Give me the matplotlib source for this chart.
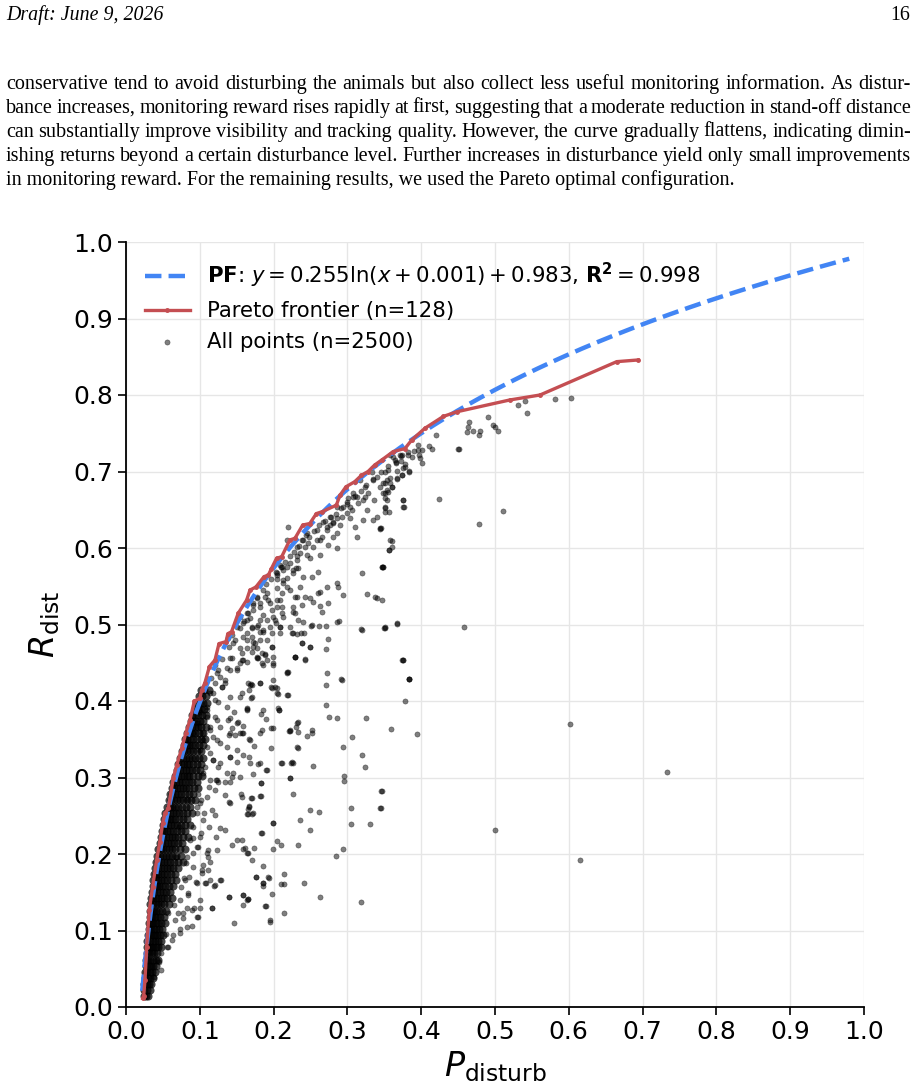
import numpy as np
import matplotlib
matplotlib.use("Agg")
import matplotlib.pyplot as plt

W, H = 916, 1089

# ---- page text ----
header_left = "Draft: June 9, 2026"
header_right = "16"
para_lines = [
    "conservative tend to avoid disturbing the animals but also collect less useful monitoring information.  As distur-",
    "bance increases, monitoring reward rises rapidly at first, suggesting that a moderate reduction in stand-off distance",
    "can substantially improve visibility and tracking quality. However, the curve gradually flattens, indicating dimin-",
    "ishing returns beyond a certain disturbance level. Further increases in disturbance yield only small improvements",
    "in monitoring reward. For the remaining results, we used the Pareto optimal configuration.",
]

# ---- fitted PF curve: y = a ln(x + c) + b ----
pf_a, pf_b, pf_c = 0.255, 0.983, 0.001
pf_xmin, pf_xmax = 0.022, 0.98
pf_r2 = 0.998

# ---- Pareto frontier ----
frontier_x = [0.0226, 0.024, 0.0257, 0.028, 0.0316, 0.036, 0.0415, 0.046, 0.0496, 0.0528,
              0.0573, 0.064, 0.0687, 0.0755, 0.081, 0.0867, 0.0926, 0.100, 0.1025, 0.107,
              0.113, 0.1206, 0.126, 0.1355, 0.138, 0.143, 0.152, 0.1635, 0.168, 0.176,
              0.187, 0.193, 0.197, 0.204, 0.211, 0.222, 0.229, 0.2394, 0.249, 0.258,
              0.266, 0.285, 0.290, 0.298, 0.310, 0.319, 0.328, 0.337, 0.3465, 0.362,
              0.378, 0.387, 0.405, 0.430, 0.448, 0.520, 0.561, 0.665, 0.694]
frontier_y = [0.0113, 0.015, 0.035, 0.079, 0.127, 0.157, 0.192, 0.216, 0.240, 0.253,
              0.2597, 0.299, 0.316, 0.338, 0.358, 0.375, 0.400, 0.4035, 0.414, 0.424,
              0.445, 0.4536, 0.475, 0.4776, 0.488, 0.4906, 0.5146, 0.532, 0.545, 0.549,
              0.5625, 0.5647, 0.573, 0.5865, 0.5887, 0.6105, 0.6127, 0.630, 0.632, 0.645,
              0.6475, 0.656, 0.669, 0.680, 0.6867, 0.695, 0.700, 0.7085, 0.715, 0.726,
              0.730, 0.741, 0.7565, 0.772, 0.778, 0.7935, 0.800, 0.8436, 0.8458]
n_frontier = 128
n_points = 2500

# ---- dense core of the cloud, rows of (y, [x...]) ----
core_rows = [
    (0.015, [0.024, 0.027, 0.030]),
    (0.022, [0.025, 0.029, 0.032]),
    (0.030, [0.025, 0.028, 0.031, 0.034]),
    (0.038, [0.026, 0.030, 0.033, 0.036]),
    (0.046, [0.026, 0.029, 0.032, 0.035, 0.039]),
    (0.054, [0.027, 0.031, 0.034, 0.037, 0.041]),
    (0.062, [0.027, 0.030, 0.033, 0.036, 0.040, 0.043]),
    (0.070, [0.028, 0.031, 0.035, 0.038, 0.042]),
    (0.078, [0.028, 0.031, 0.034, 0.037, 0.040, 0.044, 0.048]),
    (0.086, [0.029, 0.033, 0.036, 0.039, 0.043, 0.047]),
    (0.094, [0.030, 0.033, 0.036, 0.039, 0.042, 0.046, 0.050]),
    (0.102, [0.031, 0.034, 0.038, 0.041, 0.045, 0.049]),
    (0.110, [0.031, 0.034, 0.037, 0.040, 0.044, 0.048, 0.053]),
    (0.118, [0.032, 0.035, 0.039, 0.042, 0.046, 0.051]),
    (0.126, [0.032, 0.035, 0.038, 0.041, 0.045, 0.049, 0.054]),
    (0.134, [0.033, 0.036, 0.040, 0.043, 0.047, 0.052, 0.058]),
    (0.142, [0.034, 0.037, 0.040, 0.043, 0.047, 0.051, 0.056, 0.062]),
    (0.150, [0.035, 0.038, 0.042, 0.046, 0.050, 0.054, 0.060]),
    (0.158, [0.036, 0.039, 0.042, 0.045, 0.049, 0.053, 0.058, 0.064]),
    (0.166, [0.037, 0.040, 0.044, 0.048, 0.052, 0.056, 0.061, 0.068]),
    (0.174, [0.038, 0.041, 0.044, 0.048, 0.052, 0.056, 0.061, 0.067]),
    (0.182, [0.039, 0.043, 0.047, 0.051, 0.055, 0.059, 0.064, 0.071]),
    (0.190, [0.041, 0.044, 0.048, 0.052, 0.056, 0.060, 0.065, 0.071, 0.077]),
    (0.198, [0.042, 0.046, 0.050, 0.054, 0.058, 0.063, 0.068, 0.074]),
    (0.206, [0.044, 0.047, 0.050, 0.054, 0.058, 0.062, 0.067, 0.073, 0.080]),
    (0.214, [0.046, 0.049, 0.053, 0.057, 0.061, 0.065, 0.070, 0.076]),
    (0.222, [0.047, 0.050, 0.054, 0.058, 0.062, 0.066, 0.071, 0.077, 0.084]),
    (0.230, [0.049, 0.052, 0.056, 0.060, 0.064, 0.069, 0.074, 0.080]),
    (0.238, [0.050, 0.053, 0.057, 0.061, 0.065, 0.069, 0.074, 0.080, 0.087]),
    (0.246, [0.052, 0.055, 0.059, 0.063, 0.067, 0.072, 0.077, 0.083]),
    (0.254, [0.053, 0.056, 0.060, 0.064, 0.068, 0.072, 0.077, 0.083, 0.090]),
    (0.262, [0.056, 0.059, 0.063, 0.067, 0.071, 0.076, 0.081, 0.087]),
    (0.270, [0.058, 0.061, 0.065, 0.069, 0.073, 0.077, 0.082, 0.088, 0.094]),
    (0.278, [0.060, 0.063, 0.067, 0.071, 0.075, 0.080, 0.085, 0.091]),
    (0.286, [0.062, 0.065, 0.069, 0.073, 0.077, 0.081, 0.086, 0.092, 0.098]),
    (0.294, [0.064, 0.068, 0.072, 0.076, 0.080, 0.085, 0.090, 0.096]),
    (0.302, [0.067, 0.070, 0.074, 0.078, 0.082, 0.086, 0.091, 0.097, 0.103]),
    (0.310, [0.069, 0.073, 0.077, 0.081, 0.085, 0.090, 0.095, 0.100]),
    (0.318, [0.071, 0.074, 0.078, 0.082, 0.086, 0.091, 0.096, 0.102]),
    (0.326, [0.073, 0.077, 0.081, 0.085, 0.089, 0.094, 0.099, 0.104]),
    (0.334, [0.076, 0.079, 0.083, 0.087, 0.091, 0.096, 0.101]),
    (0.342, [0.078, 0.082, 0.086, 0.090, 0.094, 0.099, 0.105]),
    (0.350, [0.080, 0.083, 0.087, 0.091, 0.096, 0.101, 0.107]),
    (0.358, [0.083, 0.086, 0.090, 0.094, 0.099, 0.104]),
    (0.366, [0.085, 0.089, 0.093, 0.097, 0.102, 0.108]),
    (0.374, [0.088, 0.091, 0.095, 0.100, 0.105]),
    (0.382, [0.090, 0.094, 0.098, 0.103, 0.109]),
    (0.390, [0.093, 0.097, 0.101, 0.106]),
    (0.398, [0.096, 0.100, 0.104, 0.110]),
    (0.406, [0.099, 0.103, 0.108]),
    (0.414, [0.102, 0.106, 0.112]),
]

# ---- individual points, by region ----
pts_far = [
    (0.733, 0.307), (0.615, 0.1926), (0.6016, 0.370), (0.500, 0.232), (0.458, 0.497),
    (0.6025, 0.796), (0.581, 0.795), (0.540, 0.7926), (0.5316, 0.7865), (0.543, 0.777),
    (0.490, 0.7717), (0.4643, 0.7643), (0.4634, 0.7586), (0.4697, 0.7534), (0.4616, 0.7512),
    (0.4797, 0.753), (0.4783, 0.7473), (0.4968, 0.7608), (0.5004, 0.758), (0.5045, 0.7534),
    (0.420, 0.7473), (0.4494, 0.730), (0.4506, 0.7296), (0.411, 0.7333), (0.4142, 0.730),
    (0.4242, 0.6637), (0.5104, 0.649), (0.478, 0.631), (0.3668, 0.501), (0.375, 0.453),
    (0.384, 0.4288), (0.378, 0.400), (0.3587, 0.3634), (0.394, 0.357), (0.3464, 0.282),
    (0.345, 0.2597), (0.3455, 0.2824), (0.3446, 0.2597), (0.331, 0.2396), (0.318, 0.1377),
]
pts_upper = [
    (0.395, 0.728), (0.4006, 0.728), (0.397, 0.7216), (0.398, 0.717), (0.4015, 0.711),
    (0.3826, 0.7216), (0.387, 0.7185), (0.3735, 0.7216), (0.362, 0.7194), (0.366, 0.7116),
    (0.372, 0.714), (0.378, 0.7098), (0.375, 0.705), (0.3677, 0.701), (0.384, 0.700),
    (0.3745, 0.695), (0.3677, 0.6906), (0.3577, 0.691), (0.360, 0.680), (0.351, 0.6845),
    (0.353, 0.676), (0.3487, 0.6715), (0.351, 0.665), (0.375, 0.6627), (0.3758, 0.654),
    (0.3514, 0.6527), (0.3568, 0.6466), (0.345, 0.626), (0.360, 0.6096), (0.3564, 0.5978),
    (0.3478, 0.5747), (0.3464, 0.532), (0.350, 0.495), (0.3826, 0.7259), (0.3713, 0.7216),
    (0.3781, 0.7063), (0.3840, 0.7007), (0.3659, 0.7129), (0.3736, 0.6955), (0.3578, 0.7216),
    (0.3510, 0.6998), (0.3532, 0.6889), (0.3487, 0.6845), (0.3578, 0.6845), (0.3442, 0.6802),
    (0.3510, 0.6715), (0.3532, 0.6628), (0.3600, 0.6802), (0.3555, 0.6737), (0.3352, 0.6889),
    (0.3397, 0.6933), (0.3329, 0.6998), (0.3239, 0.6802), (0.3171, 0.6889), (0.3284, 0.6715),
    (0.3081, 0.6715), (0.3126, 0.6671), (0.3216, 0.6628), (0.3148, 0.6584), (0.3013, 0.6649),
    (0.3036, 0.6540), (0.2945, 0.6540), (0.2990, 0.6453), (0.3058, 0.6497), (0.2923, 0.6410),
    (0.2810, 0.6344), (0.2764, 0.6301), (0.2719, 0.6279), (0.2855, 0.6192), (0.2810, 0.6148),
    (0.2651, 0.6148), (0.2584, 0.6105), (0.2539, 0.6018), (0.2629, 0.5909), (0.2742, 0.6039),
    (0.2900, 0.6301), (0.3103, 0.6279), (0.3261, 0.6497), (0.3352, 0.6366), (0.3442, 0.6257),
    (0.3578, 0.6105), (0.3600, 0.6018), (0.3569, 0.5974), (0.3510, 0.6540), (0.3510, 0.6475),
    (0.3749, 0.6628), (0.3767, 0.6540), (0.3555, 0.702), (0.3668, 0.6911), (0.3361, 0.6628),
    (0.3465, 0.5756), (0.3397, 0.6410), (0.3442, 0.6244), (0.3216, 0.6366), (0.3126, 0.6148),
    (0.3035, 0.6388), (0.2990, 0.6575), (0.2855, 0.6388), (0.2674, 0.6344), (0.2809, 0.6323),
    (0.2719, 0.6236), (0.2855, 0.5996), (0.2584, 0.6236), (0.2448, 0.6192), (0.2426, 0.6018),
    (0.2380, 0.6105), (0.2313, 0.6018), (0.2448, 0.5909), (0.2313, 0.5843), (0.2222, 0.5800),
    (0.2177, 0.5756), (0.2087, 0.5778), (0.2267, 0.5713), (0.2493, 0.5865), (0.2403, 0.5626),
    (0.2516, 0.5626), (0.2606, 0.5691), (0.2719, 0.5495), (0.2855, 0.5538), (0.2606, 0.5416),
    (0.2742, 0.5277), (0.2945, 0.5386), (0.3261, 0.5399), (0.3374, 0.5355), (0.3193, 0.5669),
    (0.3487, 0.5756), (0.2222, 0.5451), (0.2313, 0.5364), (0.2493, 0.5342), (0.2380, 0.5255),
    (0.2629, 0.5242), (0.2267, 0.5233), (0.2042, 0.5320), (0.1951, 0.5277), (0.1883, 0.5364),
    (0.1725, 0.5277), (0.1635, 0.5146), (0.1816, 0.5059), (0.2132, 0.5103), (0.2335, 0.5059),
    (0.2516, 0.4994), (0.2855, 0.5037), (0.3510, 0.4972), (0.2200, 0.6279), (0.2439, 0.6170),
    (0.2471, 0.6061), (0.2358, 0.5931), (0.2177, 0.6105), (0.2878, 0.5495), (0.2629, 0.5429),
    (0.2426, 0.5364), (0.2358, 0.5495), (0.2268, 0.5669), (0.2177, 0.5495), (0.2109, 0.5233),
    (0.2290, 0.5146), (0.2539, 0.5299), (0.2651, 0.5168), (0.2109, 0.5408), (0.3397, 0.5342),
    (0.3464, 0.5756), (0.3668, 0.5016), (0.3194, 0.4928), (0.3749, 0.4536), (0.3840, 0.4284),
    (0.2403, 0.5037), (0.2245, 0.4885), (0.2223, 0.4972), (0.2110, 0.5756), (0.2304, 0.5734),
    (0.2042, 0.5647), (0.2132, 0.5582), (0.2042, 0.5473), (0.1906, 0.5407), (0.2087, 0.5320),
    (0.2290, 0.5364), (0.1816, 0.5233), (0.1974, 0.5190), (0.1861, 0.5124), (0.2268, 0.5168),
    (0.2629, 0.6105), (0.2764, 0.6410), (0.2855, 0.6540), (0.3080, 0.6671), (0.3239, 0.6671),
]
pts_frontier_edge = [
    (0.115, 0.430), (0.125, 0.440), (0.130, 0.455), (0.140, 0.470), (0.148, 0.480),
    (0.155, 0.495), (0.160, 0.505), (0.165, 0.515), (0.172, 0.525), (0.178, 0.535),
    (0.185, 0.545), (0.190, 0.553), (0.197, 0.560), (0.203, 0.568), (0.210, 0.575),
    (0.215, 0.582), (0.222, 0.590), (0.228, 0.595), (0.235, 0.603), (0.240, 0.610),
    (0.248, 0.615), (0.255, 0.622), (0.262, 0.630), (0.270, 0.635), (0.278, 0.640),
    (0.285, 0.645), (0.292, 0.652), (0.300, 0.660), (0.310, 0.668), (0.318, 0.675),
    (0.325, 0.683), (0.335, 0.690), (0.345, 0.700), (0.355, 0.707), (0.365, 0.715),
    (0.372, 0.720), (0.390, 0.727), (0.395, 0.735), (0.205, 0.560), (0.232, 0.590),
]
pts_middle = [
    (0.1206, 0.4471), (0.1364, 0.4427), (0.1296, 0.4188), (0.1206, 0.4231), (0.1432, 0.4558),
    (0.1545, 0.4493), (0.1500, 0.4406), (0.1635, 0.4689), (0.1726, 0.4776), (0.1771, 0.4689),
    (0.1635, 0.4885), (0.1703, 0.4950), (0.1793, 0.4994), (0.1861, 0.4928), (0.1906, 0.5059),
    (0.1996, 0.5103), (0.2087, 0.4972), (0.2042, 0.5233), (0.1929, 0.5320), (0.1816, 0.5277),
    (0.1771, 0.5364), (0.1726, 0.5190), (0.1635, 0.5059), (0.1545, 0.5103), (0.1590, 0.4841),
    (0.1455, 0.4754), (0.1432, 0.4863), (0.1500, 0.4972), (0.1387, 0.4820), (0.1567, 0.4623),
    (0.1838, 0.4623), (0.1906, 0.4536), (0.1274, 0.4318), (0.1342, 0.4231), (0.2033, 0.5016),
    (0.1951, 0.4972), (0.1906, 0.4798), (0.1974, 0.4711), (0.1996, 0.4471), (0.1816, 0.4907),
    (0.1748, 0.4754), (0.1771, 0.4580), (0.1861, 0.4471), (0.1703, 0.4645), (0.1635, 0.4514),
    (0.1658, 0.4231), (0.1816, 0.4231), (0.1996, 0.4275), (0.2019, 0.4188), (0.2177, 0.4362),
    (0.2290, 0.4580), (0.2426, 0.4536), (0.2380, 0.4754), (0.2493, 0.4711), (0.2719, 0.4362),
    (0.2923, 0.4275), (0.2268, 0.4885), (0.2087, 0.4885), (0.1590, 0.5015), (0.1680, 0.5081),
    (0.2318, 0.4876), (0.237, 0.4885), (0.241, 0.4885), (0.238, 0.4763), (0.2497, 0.471),
    (0.274, 0.4806), (0.271, 0.4676), (0.198, 0.471), (0.1883, 0.461), (0.178, 0.4566),
    (0.1838, 0.450), (0.1987, 0.4493), (0.229, 0.458), (0.2425, 0.4545), (0.1567, 0.4536),
    (0.219, 0.4375), (0.3745, 0.453), (0.3835, 0.4288), (0.292, 0.4283), (0.2706, 0.421),
    (0.351, 0.495), (0.318, 0.4937), (0.2886, 0.5046), (0.271, 0.4985), (0.262, 0.4985),
    (0.2507, 0.4985), (0.2087, 0.4963), (0.198, 0.4893), (0.171, 0.497), (0.164, 0.480),
    (0.2109, 0.5146), (0.2019, 0.5059), (0.1771, 0.4972), (0.1861, 0.4906), (0.1703, 0.4841),
    (0.1816, 0.4798), (0.1545, 0.4689), (0.1726, 0.4710), (0.1884, 0.4601), (0.1409, 0.4558),
    (0.1590, 0.4536), (0.1793, 0.4558), (0.2290, 0.4580), (0.1996, 0.4580), (0.2177, 0.4384),
    (0.1229, 0.4362), (0.1409, 0.4405), (0.1500, 0.4427), (0.1342, 0.4275), (0.1680, 0.4209),
]
pts_lower = [
    (0.1816, 0.423), (0.1694, 0.4218), (0.167, 0.4144), (0.1567, 0.410), (0.1694, 0.4043),
    (0.1974, 0.4166), (0.204, 0.4166), (0.2064, 0.409), (0.219, 0.408), (0.2706, 0.3948),
    (0.1635, 0.389), (0.2073, 0.388), (0.1834, 0.383), (0.1893, 0.376), (0.2755, 0.3795),
    (0.2863, 0.3774), (0.3252, 0.3774), (0.2326, 0.373), (0.2304, 0.3656), (0.2222, 0.361),
    (0.2335, 0.359), (0.252, 0.362), (0.2516, 0.3586), (0.2457, 0.354), (0.1965, 0.365),
    (0.1847, 0.362), (0.158, 0.3677), (0.3058, 0.3534), (0.1567, 0.3578), (0.1667, 0.350),
    (0.1734, 0.341), (0.196, 0.3386), (0.2326, 0.338), (0.2945, 0.340), (0.3193, 0.3294),
    (0.3243, 0.314), (0.1667, 0.3264), (0.1793, 0.3173), (0.2104, 0.3193), (0.2232, 0.3193),
    (0.2268, 0.3193), (0.2529, 0.3154), (0.1893, 0.3094), (0.1725, 0.305), (0.2222, 0.2997),
    (0.2949, 0.302), (0.2949, 0.295), (0.183, 0.2933), (0.2258, 0.2789), (0.1825, 0.2763),
    (0.1703, 0.2728), (0.167, 0.263), (0.1657, 0.2588), (0.1635, 0.2519), (0.171, 0.2519),
    (0.3053, 0.2597), (0.2489, 0.2575), (0.2615, 0.2549), (0.2358, 0.2444), (0.1987, 0.2405),
    (0.3053, 0.2392), (0.2497, 0.2314), (0.1838, 0.228), (0.204, 0.2174), (0.210, 0.2118),
    (0.1996, 0.206), (0.2326, 0.2114), (0.294, 0.206), (0.2846, 0.1974), (0.1567, 0.218),
    (0.158, 0.206), (0.165, 0.201), (0.174, 0.208), (0.1707, 0.192), (0.186, 0.1843),
    (0.176, 0.170), (0.193, 0.1703), (0.194, 0.168), (0.2137, 0.174), (0.2137, 0.1612),
    (0.2104, 0.1604), (0.2416, 0.1625), (0.1856, 0.1617), (0.1856, 0.1577), (0.2624, 0.1438),
    (0.1983, 0.1477), (0.159, 0.1464), (0.165, 0.1408), (0.158, 0.1333), (0.1893, 0.132),
    (0.2145, 0.1225), (0.195, 0.1137), (0.1468, 0.1094), (0.140, 0.1442), (0.1635, 0.140),
    (0.2042, 0.5669), (0.2132, 0.5713), (0.2335, 0.5734), (0.2177, 0.5604), (0.2132, 0.5538),
]
pts_low_left = [
    (0.156, 0.278), (0.170, 0.273), (0.182, 0.276), (0.183, 0.293), (0.141, 0.267),
    (0.167, 0.262), (0.165, 0.252), (0.172, 0.253), (0.199, 0.240), (0.183, 0.227),
    (0.1346, 0.231), (0.1274, 0.2335), (0.122, 0.2226), (0.113, 0.2357), (0.1016, 0.227),
    (0.151, 0.218), (0.1436, 0.212), (0.161, 0.2074), (0.1635, 0.201), (0.1107, 0.205),
    (0.1107, 0.1965), (0.1048, 0.1856), (0.1107, 0.179), (0.103, 0.179), (0.1287, 0.166),
    (0.1197, 0.158), (0.1075, 0.1617), (0.0948, 0.164), (0.176, 0.170), (0.186, 0.1617),
    (0.140, 0.144), (0.158, 0.146), (0.165, 0.141), (0.1888, 0.132), (0.116, 0.130),
    (0.100, 0.129), (0.0926, 0.129), (0.096, 0.118), (0.0827, 0.129), (0.0768, 0.116),
    (0.0894, 0.106), (0.0732, 0.1015), (0.195, 0.1115), (0.0632, 0.094), (0.0542, 0.0954),
    (0.0551, 0.079), (0.0474, 0.070), (0.0451, 0.059), (0.0474, 0.048), (0.0384, 0.0396),
    (0.0678, 0.1965), (0.0813, 0.188), (0.0903, 0.201), (0.0957, 0.2095), (0.0858, 0.170),
    (0.0745, 0.157), (0.0835, 0.1464), (0.0655, 0.1333), (0.0565, 0.1225), (0.070, 0.1225),
    (0.079, 0.168), (0.0903, 0.2205), (0.106, 0.253), (0.0957, 0.262), (0.1016, 0.2706),
    (0.113, 0.288), (0.122, 0.2967), (0.097, 0.279), (0.0827, 0.2706), (0.0722, 0.2357),
    (0.1248, 0.2940), (0.1342, 0.2770), (0.1432, 0.3010), (0.1340, 0.2945), (0.1567, 0.275),
    (0.1590, 0.3294), (0.1580, 0.3577), (0.1500, 0.3207), (0.1410, 0.327), (0.1432, 0.3643),
    (0.1396, 0.3556), (0.1477, 0.3556), (0.1463, 0.386), (0.1386, 0.375), (0.1513, 0.373),
    (0.1635, 0.388), (0.1703, 0.4056), (0.1545, 0.4048), (0.1703, 0.421), (0.196, 0.4187),
    (0.2077, 0.388), (0.2213, 0.361), (0.140, 0.2684), (0.1229, 0.2052), (0.1206, 0.251),
    (0.1160, 0.129), (0.127, 0.166), (0.1206, 0.1595), (0.108, 0.1617), (0.097, 0.118),
    (0.1183, 0.4100), (0.1251, 0.3991), (0.1093, 0.3882), (0.1206, 0.3795), (0.1138, 0.3665),
    (0.1048, 0.3577), (0.1229, 0.3490), (0.1093, 0.3403), (0.1183, 0.3229), (0.1251, 0.3142),
    (0.1048, 0.3055), (0.1138, 0.2967), (0.1206, 0.2837), (0.1093, 0.2750), (0.1003, 0.2662),
    (0.1161, 0.2575), (0.0958, 0.2532), (0.1048, 0.2444), (0.0913, 0.2357), (0.1003, 0.2227),
    (0.0867, 0.2183), (0.0980, 0.2096), (0.1093, 0.2009), (0.0822, 0.1965), (0.1138, 0.1900),
    (0.0913, 0.1835), (0.1025, 0.1747), (0.0800, 0.1660), (0.0958, 0.1617), (0.1138, 0.1660),
    (0.0845, 0.1486), (0.0732, 0.1399), (0.1003, 0.1399), (0.0890, 0.1268), (0.0777, 0.1225),
    (0.0664, 0.1137), (0.0822, 0.1050), (0.0732, 0.0963), (0.0619, 0.0876), (0.0574, 0.0789),
    (0.1138, 0.4100), (0.1206, 0.4013), (0.1364, 0.3926), (0.1635, 0.3904), (0.1861, 0.3882),
    (0.2064, 0.3904), (0.1093, 0.3926), (0.1003, 0.3861), (0.1093, 0.3795), (0.1229, 0.3752),
    (0.1409, 0.3774), (0.1500, 0.3708), (0.1274, 0.3665), (0.1138, 0.3621), (0.1409, 0.3578),
    (0.1545, 0.3578), (0.1680, 0.3490), (0.1816, 0.3578), (0.1996, 0.3643), (0.2222, 0.3621),
    (0.2313, 0.3708), (0.0958, 0.3708), (0.0913, 0.3578), (0.1048, 0.3490), (0.1183, 0.3534),
    (0.1003, 0.3360), (0.1138, 0.3316), (0.1274, 0.3447), (0.1364, 0.3403), (0.1500, 0.3360),
    (0.1183, 0.3229), (0.1071, 0.3142), (0.1274, 0.3185), (0.1409, 0.3272), (0.1455, 0.3055),
    (0.1680, 0.3185), (0.1816, 0.3185), (0.1906, 0.3098), (0.2109, 0.3185), (0.2245, 0.3207),
    (0.2222, 0.2989), (0.2313, 0.3403), (0.1229, 0.2967), (0.1409, 0.2946), (0.1545, 0.3011),
    (0.1364, 0.3055), (0.2042, 0.4100), (0.2177, 0.4079), (0.1296, 0.4188), (0.1409, 0.4057),
]

# ---- figure ----
fig = plt.figure(figsize=(W / 100, H / 100), dpi=100)
renderer = fig.canvas.get_renderer()
serif = "Liberation Serif"


def px(x, y):
    return x / W, 1 - y / H


def width_of(s, size, style="normal"):
    t = fig.text(0, 0, s, fontsize=size, family=serif, style=style)
    w = t.get_window_extent(renderer).width
    t.remove()
    return w


# header
hsize = 10 * 157 / width_of(header_left, 10, "italic")
fig.text(*px(6, 20), header_left, fontsize=hsize, family=serif, style="italic", va="baseline")
fig.text(*px(910, 20), header_right, fontsize=hsize, family=serif, va="baseline", ha="right")

# justified paragraph
psize = 10 * 731 / width_of(para_lines[-1], 10)
x_left, x_right = 6, 911
for i, line in enumerate(para_lines):
    base = 89 + 24 * i
    if i == len(para_lines) - 1:
        fig.text(*px(x_left, base), line, fontsize=psize, family=serif, va="baseline")
        continue
    words = line.split()
    widths = [width_of(w, psize) for w in words]
    gap = (x_right - x_left - sum(widths)) / (len(words) - 1)
    xpos = x_left
    for w, wd in zip(words, widths):
        fig.text(*px(xpos, base), w, fontsize=psize, family=serif, va="baseline")
        xpos += wd + gap

# chart
ax = fig.add_axes([126 / W, 82 / H, 738 / W, 765 / H])

cx = [x for y, xs in core_rows for x in xs]
cy = [y for y, xs in core_rows for x in xs]
ax.scatter(cx, cy, s=34, c="k", alpha=0.72, linewidths=0, zorder=2)

loose = pts_far + pts_upper + pts_frontier_edge + pts_middle + pts_lower + pts_low_left
lx = [p[0] for p in loose]
ly = [p[1] for p in loose]
ax.scatter(lx, ly, s=14, c="k", alpha=0.5, linewidths=0.4, zorder=2,
           label=f"All points (n={n_points})")

xf = np.linspace(pf_xmin, pf_xmax, 300)
ax.plot(xf, pf_a * np.log(xf + pf_c) + pf_b, color="#4285F4", lw=3.2, ls="--", zorder=3,
        label=rf"$\mathbf{{PF}}$: $y = {pf_a}\ln(x + {pf_c}) + {pf_b}$, $\mathbf{{R^2}} = {pf_r2}$")
ax.plot(frontier_x, frontier_y, color="#C44E52", lw=2.4, marker="o", ms=2.5, zorder=4,
        label=f"Pareto frontier (n={n_frontier})")

ax.set_xlim(0, 1)
ax.set_ylim(0, 1)
ticks = np.round(np.arange(0, 1.01, 0.1), 1)
ax.set_xticks(ticks)
ax.set_yticks(ticks)
ax.tick_params(labelsize=18, length=6, width=1.2)
ax.grid(True, color="#e6e6e6", lw=1.0)
ax.set_axisbelow(True)
for s in ["top", "right"]:
    ax.spines[s].set_visible(False)
for s in ["left", "bottom"]:
    ax.spines[s].set_linewidth(1.3)
ax.set_xlabel(r"$P_{\mathrm{disturb}}$", fontsize=24, labelpad=4)
ax.set_ylabel(r"$R_{\mathrm{dist}}$", fontsize=24, labelpad=8)

h, l = ax.get_legend_handles_labels()
order = [1, 2, 0]
ax.legend([h[i] for i in order], [l[i] for i in order], loc="upper left", frameon=False,
          fontsize=15.3, handlelength=2.1, markerscale=1.0)

fig.savefig("out.png", dpi=100)
